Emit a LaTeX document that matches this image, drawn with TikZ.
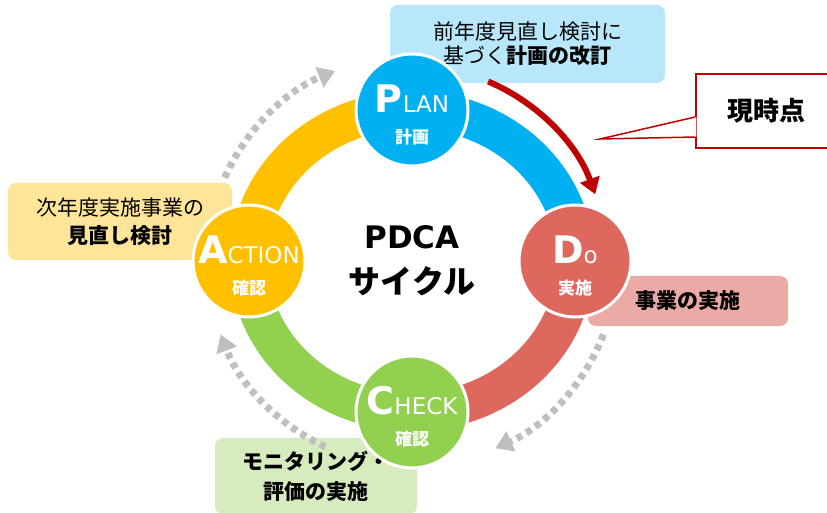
\documentclass[tikz,border=0pt]{standalone}
\usepackage{fontspec}
\setmainfont{Noto Sans CJK JP}
\newfontfamily\latinfont{DejaVu Sans}
\usepackage{xcolor}
\definecolor{planblue}{RGB}{0,176,240}
\definecolor{dored}{RGB}{222,104,94}
\definecolor{checkgreen}{RGB}{146,208,80}
\definecolor{actionyellow}{RGB}{255,192,0}
\definecolor{planbg}{RGB}{184,231,250}
\definecolor{dobg}{RGB}{236,170,166}
\definecolor{checkbg}{RGB}{214,236,190}
\definecolor{actionbg}{RGB}{255,229,153}
\definecolor{cyclegray}{RGB}{191,191,191}
\definecolor{nowred}{RGB}{192,0,0}
\usetikzlibrary{
  arrows.meta,
  positioning,
  calc
}
\tikzset{
  phase/.style={circle, draw=white, line width=3pt,
    minimum size=112pt, inner sep=0pt},
  phaselbl/.style={text=white, align=center, inner sep=0pt,
    font=\fontsize{17}{31}\selectfont},
  ringarc/.style={line width=38pt},
  notebox/.style={rounded corners=8pt, align=center, inner sep=0pt,
    font=\fontsize{21}{28}\selectfont},
  cyclearr/.style={line width=7pt, draw=cyclegray,
    dash pattern=on 6pt off 5pt,
    -{Triangle[length=17pt, width=21pt]}},
  nowarr/.style={line width=6pt, draw=nowred,
    -{Triangle[length=16pt, width=20pt]}},
}
\newcommand{\PhBig}[1]{{\latinfont\bfseries\fontsize{38}{38}\selectfont #1}}
\newcommand{\PhSmall}[1]{{\latinfont\fontsize{23}{23}\selectfont #1}}
\newcommand{\PhJa}[1]{{\bfseries #1}}

\begin{document}
\begin{tikzpicture}[x=1pt, y=1pt]
  \useasboundingbox (0,0) rectangle (827,512);
  \coordinate (c) at (412,251);

  % Notes
  \node[notebox, fill=planbg, minimum width=275pt, minimum height=78pt,
        font=\fontsize{21}{24}\selectfont] (plannote) at (527.5,468)
    {前年度見直し検討に\\基づく\textbf{計画の改訂}};
  \node[notebox, fill=dobg, minimum width=200pt, minimum height=50pt]
    (donote) at (688,211) {\textbf{事業の実施}};
  \node[notebox, fill=checkbg, minimum width=202pt, minimum height=76pt,
        font=\fontsize{21}{30}\selectfont] (checknote) at (316,36)
    {\textbf{モニタリング・}\\\textbf{評価の実施}};
  \node[notebox, fill=actionbg, minimum width=224pt, minimum height=77pt]
    (actionnote) at (120,290.5)
    {次年度実施事業の\\\textbf{見直し検討}};

  % Ring
  \draw[ringarc, planblue] (c) ++(90:163pt and 151pt)
    arc[start angle=90, end angle=0, x radius=163pt, y radius=151pt];
  \draw[ringarc, dored] (c) ++(0:163pt and 151pt)
    arc[start angle=0, end angle=-90, x radius=163pt, y radius=151pt];
  \draw[ringarc, checkgreen] (c) ++(-90:163pt and 151pt)
    arc[start angle=-90, end angle=-180, x radius=163pt, y radius=151pt];
  \draw[ringarc, actionyellow] (c) ++(180:163pt and 151pt)
    arc[start angle=180, end angle=90, x radius=163pt, y radius=151pt];

  % PLAN
  \node[phase, fill=planblue] (plan) at (412,402) {};
  \node[phaselbl] (planlbl) at ([yshift=-5pt]plan.center)
    {\PhBig{P}\PhSmall{LAN}\\\PhJa{計画}};
  % DO
  \node[phase, fill=dored] (do) at (575,251) {};
  \node[phaselbl] (dolbl) at ([yshift=-5pt]do.center)
    {\PhBig{D}\PhSmall{o}\\\PhJa{実施}};
  % CHECK
  \node[phase, fill=checkgreen] (check) at (412,100) {};
  \node[phaselbl] (checklbl) at ([yshift=-5pt]check.center)
    {\PhBig{C}\PhSmall{HECK}\\\PhJa{確認}};
  % ACTION
  \node[phase, fill=actionyellow] (action) at (249,251) {};
  \node[phaselbl] (actionlbl) at ([yshift=-5pt]action.center)
    {\PhBig{A}\PhSmall{CTION}\\\PhJa{確認}};

  % Title
  \node[align=center, font=\bfseries\fontsize{32}{45}\selectfont] (title) at (c)
    {{\latinfont\fontsize{31}{45}\selectfont PDCA}\\サイクル};

  % Arrows
  \draw[cyclearr] (c) ++(156:205pt) arc[start angle=156, end angle=112, radius=205pt];
  \draw[cyclearr] (c) ++(-21:205pt) arc[start angle=-21, end angle=-66, radius=205pt];
  \draw[cyclearr] (c) ++(245:205pt) arc[start angle=245, end angle=201, radius=205pt];
  \draw[nowarr] (c) ++(67:195pt) arc[start angle=67, end angle=20, radius=195pt];

  % Now
  \node[draw=nowred, line width=1.5pt, fill=white, minimum width=140pt,
        minimum height=74pt, font=\bfseries\fontsize{26}{26}\selectfont]
    (now) at (766,401) {現時点};
  \coordinate (nowtip) at (600,373);
  \fill[white] ([xshift=1pt, yshift=-6pt]now.west) -- (nowtip)
    -- ([xshift=1pt, yshift=-26pt]now.west) -- cycle;
  \draw[nowred, line width=1.5pt] ([yshift=-6pt]now.west) -- (nowtip)
    -- ([yshift=-26pt]now.west);
\end{tikzpicture}
\end{document}
